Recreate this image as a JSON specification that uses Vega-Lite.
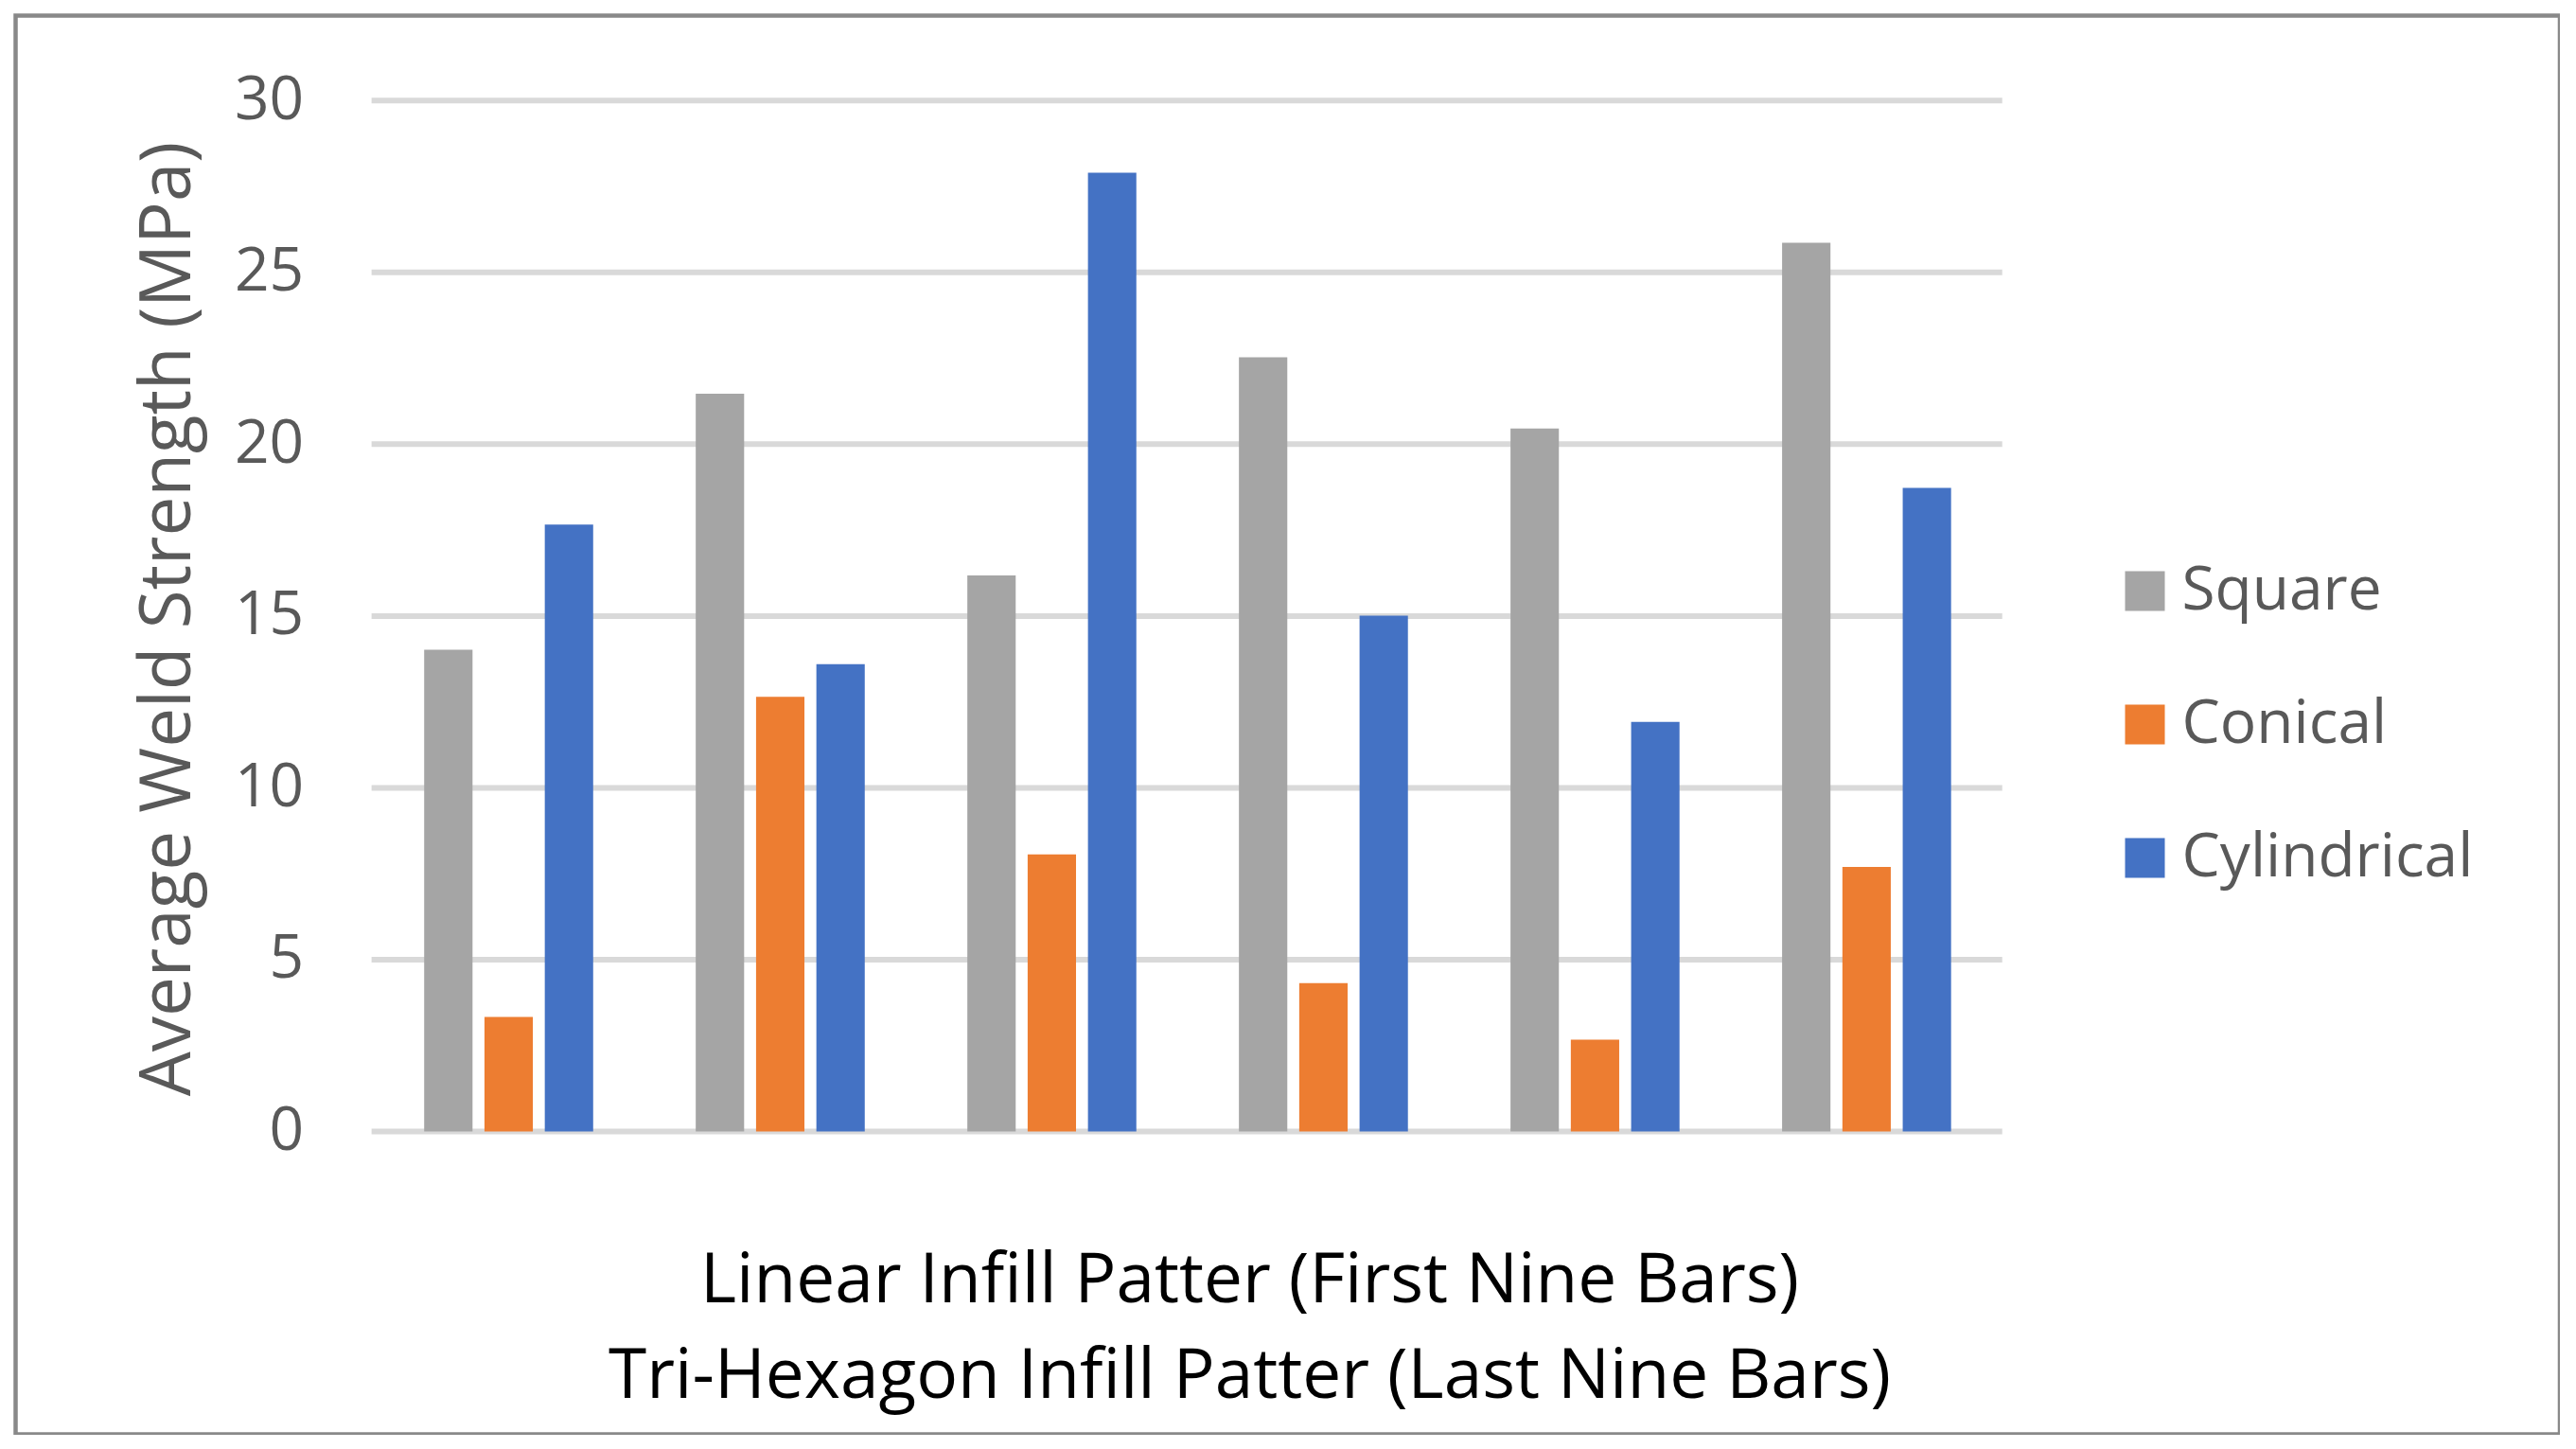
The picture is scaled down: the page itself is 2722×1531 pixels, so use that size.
{
  "$schema": "https://vega.github.io/schema/vega-lite/v6.json",
  "width": 2688.5,
  "height": 1499,
  "autosize": "none",
  "padding": {"left": 16.5, "top": 16.5, "right": 0, "bottom": 0},
  "background": "white",
  "config": {
    "view": {"stroke": "#898989", "strokeWidth": 4.5},
    "font": "Open Sans"
  },
  "layer": [
    {
      "data": {"values": [{"tick": 0}, {"tick": 5}, {"tick": 10}, {"tick": 15}, {"tick": 20}, {"tick": 25}, {"tick": 30}]},
      "mark": {"type": "rule", "color": "#D9D9D9", "strokeWidth": 6},
      "encoding": {
        "x": {"datum": 0, "type": "quantitative", "scale": {"domain": [-0.21827, 1.34199], "nice": false, "zero": false}, "axis": null},
        "x2": {"datum": 1},
        "y": {
          "field": "tick", "type": "quantitative",
          "scale": {"domain": [-8.814, 32.473], "nice": false, "zero": false},
          "axis": {
            "values": [0, 5, 10, 15, 20, 25, 30],
            "grid": false, "domain": false, "ticks": false, "tickSize": 0,
            "labelPadding": 0, "offset": -304.2,
            "labelFont": "Open Sans", "labelFontSize": 64, "labelColor": "#595959",
            "title": "Average Weld Strength (MPa)",
            "titleFont": "Open Sans", "titleFontSize": 74.5, "titleFontWeight": "normal", "titleColor": "#595959",
            "titleX": -142.5, "titleY": 637, "titleAngle": -90, "titleAlign": "center", "titleBaseline": "middle"
          }
        }
      }
    },
    {
      "data": {"values": [
        {"group": "L1", "shape": "Square", "strength": 14.02},
        {"group": "L1", "shape": "Conical", "strength": 3.33},
        {"group": "L1", "shape": "Cylindrical", "strength": 17.66},
        {"group": "L2", "shape": "Square", "strength": 21.47},
        {"group": "L2", "shape": "Conical", "strength": 12.65},
        {"group": "L2", "shape": "Cylindrical", "strength": 13.6},
        {"group": "L3", "shape": "Square", "strength": 16.18},
        {"group": "L3", "shape": "Conical", "strength": 8.06},
        {"group": "L3", "shape": "Cylindrical", "strength": 27.9},
        {"group": "T1", "shape": "Square", "strength": 22.53},
        {"group": "T1", "shape": "Conical", "strength": 4.32},
        {"group": "T1", "shape": "Cylindrical", "strength": 15.01},
        {"group": "T2", "shape": "Square", "strength": 20.46},
        {"group": "T2", "shape": "Conical", "strength": 2.67},
        {"group": "T2", "shape": "Cylindrical", "strength": 11.92},
        {"group": "T3", "shape": "Square", "strength": 25.86},
        {"group": "T3", "shape": "Conical", "strength": 7.7},
        {"group": "T3", "shape": "Cylindrical", "strength": 18.73}
      ]},
      "mark": {"type": "bar"},
      "encoding": {
        "x": {
          "field": "group", "type": "nominal",
          "scale": {"domain": ["pad0", "L1", "L2", "L3", "T1", "T2", "T3", "pad1", "pad2"], "paddingInner": 0.3777, "paddingOuter": 0.373, "align": 0.676},
          "axis": {
            "labels": false, "ticks": false, "domain": false, "grid": false,
            "title": ["Linear Infill Patter (First Nine Bars)", "Tri-Hexagon Infill Patter (Last Nine Bars)"],
            "titleFont": "Open Sans", "titleFontSize": 73, "titleFontWeight": "normal", "titleColor": "#000000",
            "titleX": 1303.5, "titleY": -140.5, "titleAlign": "center", "titleBaseline": "alphabetic", "titleLineHeight": 101.7
          }
        },
        "xOffset": {"field": "shape", "type": "nominal", "sort": ["Square", "Conical", "Cylindrical"], "scale": {"paddingInner": 0.198, "paddingOuter": 0}},
        "y": {"field": "strength", "type": "quantitative", "scale": {"domain": [-8.814, 32.473], "nice": false, "zero": false}},
        "y2": {"datum": 0},
        "color": {
          "field": "shape", "type": "nominal",
          "scale": {"domain": ["Square", "Conical", "Cylindrical"], "range": ["#A5A5A5", "#ED7D31", "#4472C4"]},
          "legend": {
            "orient": "none", "legendX": 2218, "legendY": 576, "title": null,
            "symbolType": "square", "symbolSize": 1764, "symbolStrokeWidth": 0, "symbolOpacity": 1,
            "labelFont": "Open Sans", "labelFontSize": 64, "labelColor": "#595959", "labelOffset": 7,
            "rowPadding": 77, "padding": 0, "labelLimit": 600
          }
        }
      }
    }
  ],
  "resolve": {"scale": {"x": "independent"}}
}
